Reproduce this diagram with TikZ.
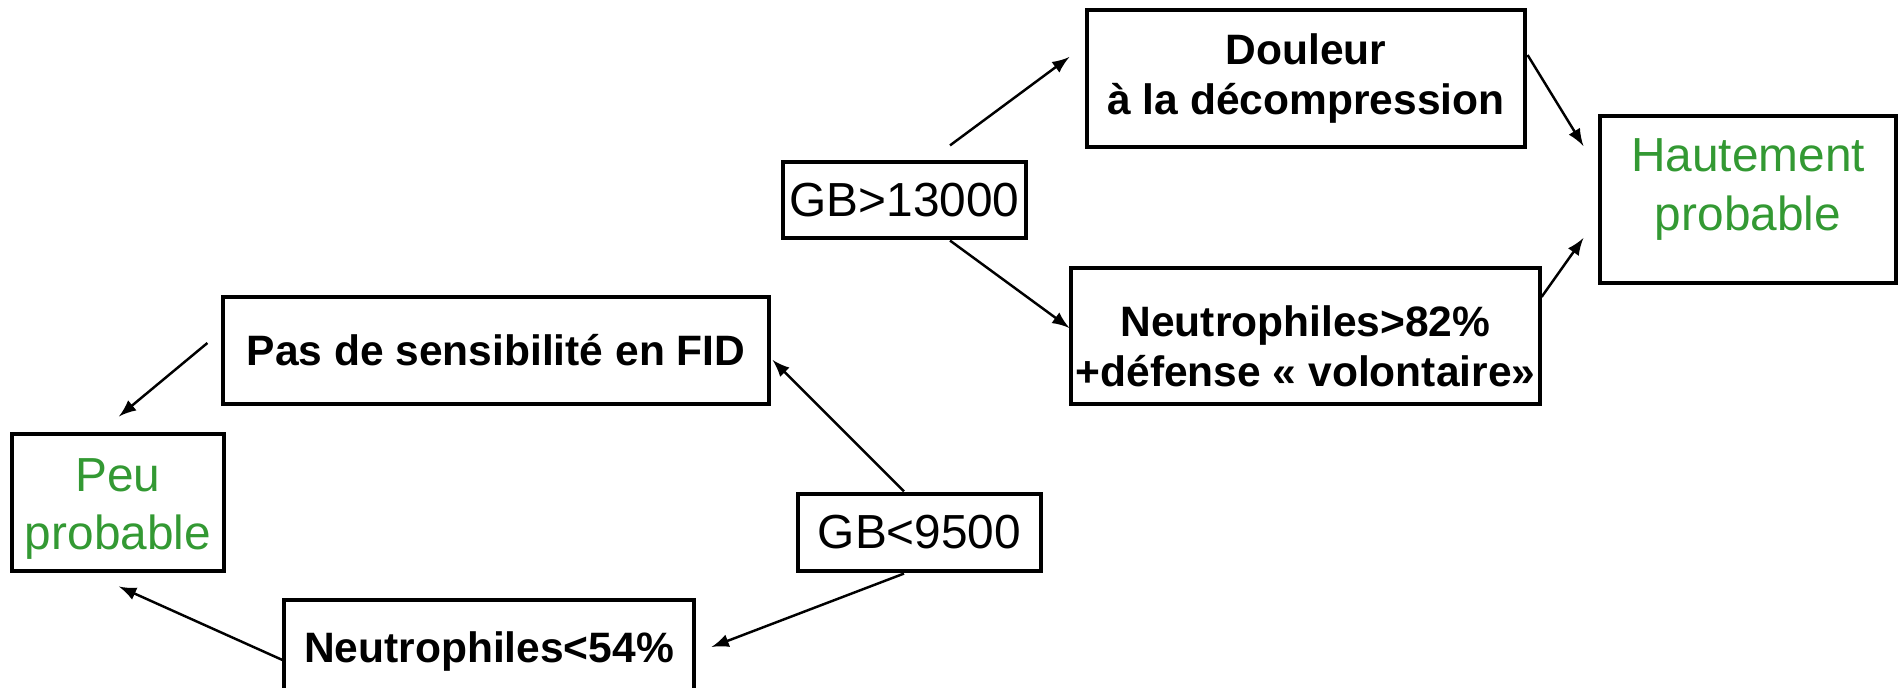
\documentclass[tikz,border=0pt]{standalone}
\usepackage{fontspec}
\setmainfont{Liberation Sans}
\usetikzlibrary{arrows,calc}
\definecolor{vert}{RGB}{51,153,51}
\newcommand{\gras}{\fontsize{12.1}{14.2}\selectfont\bfseries}
\newcommand{\normal}{\fontsize{13.6}{16.6}\selectfont}
\tikzset{
  boite/.style={draw, line width=0.9pt, inner sep=0pt, align=center},
  fleche/.style={-latex, line width=0.7pt}
}

\begin{document}
\begin{tikzpicture}
\useasboundingbox (0, 0) rectangle (18.98, 6.88);

\node[boite, minimum width=4.38cm, minimum height=1.37cm, font=\gras] (doul) at (13.06, 6.095) {Douleur\\ à la décompression};
\node[boite, minimum width=2.96cm, minimum height=1.67cm, font=\normal, text=vert, text depth=0.3cm] (haut) at (17.48, 4.885) {Hautement\\probable};
\node[boite, minimum width=2.43cm, minimum height=0.76cm, font=\normal] (gbh) at (9.045, 4.88) {GB>13000};
\node[boite, minimum width=4.69cm, minimum height=1.36cm, font=\gras] (nhaut) at (13.055, 3.52) {\rule{0pt}{0.52cm}Neutrophiles>82\%\\+défense « volontaire»};

\node[boite, minimum width=5.46cm, minimum height=1.07cm, font=\gras] (pas) at (4.96, 3.375) {Pas de sensibilité en FID};
\node[boite, minimum width=2.12cm, minimum height=1.37cm, font=\normal, text=vert] (peu) at (1.18, 1.855) {\rule{0pt}{0.46cm}Peu\\probable};
\node[boite, minimum width=2.43cm, minimum height=0.77cm, font=\normal] (gbb) at (9.195, 1.555) {GB<9500};
\node[boite, minimum width=4.10cm, minimum height=1.04cm, font=\gras] (nbas) at (4.89, 0.36) {Neutrophiles<54\%};

% haut du schema
\draw[fleche] ($(gbh.north)+(0.455, 0.15)$) -- ($(doul.west)+(-0.16, 0.215)$);
\draw[fleche] ($(gbh.south)+(0.455, -0.01)$) -- ($(nhaut.west)+(0, 0.08)$);
\draw[fleche] ($(doul.east)+(0.01, 0.235)$) -- ($(haut.west)+(-0.15, 0.535)$);
\draw[fleche] ($(nhaut.east)+(0, 0.39)$) -- ($(haut.west)+(-0.15, -0.385)$);

% bas du schema
\draw[fleche] ($(pas.west)+(-0.14, 0.075)$) -- ($(peu.north)+(0.01, 0.16)$);
\draw[fleche] ($(gbb.north)+(-0.155, 0.01)$) -- ($(pas.east)+(0.02, -0.095)$);
\draw[fleche] ($(gbb.south)+(-0.155, -0.01)$) -- ($(nbas.east)+(0.16, 0.05)$);
\draw[fleche] ($(nbas.west)+(0, -0.08)$) -- ($(peu.south)+(0.01, -0.14)$);
\end{tikzpicture}
\end{document}
